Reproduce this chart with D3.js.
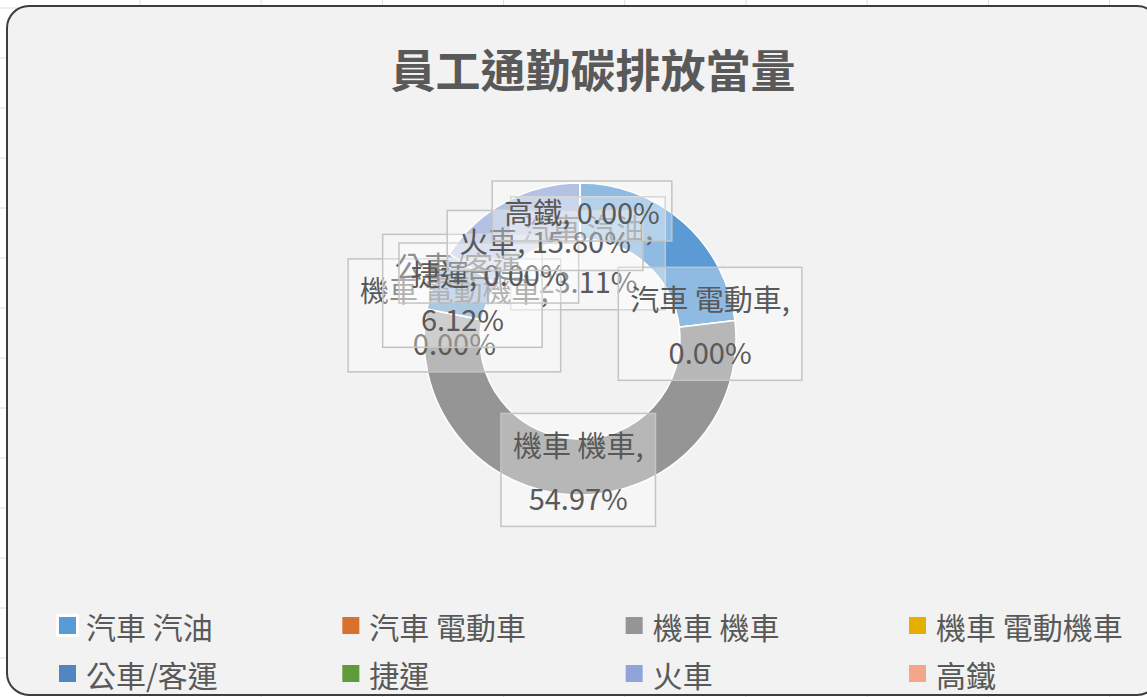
<!DOCTYPE html>
<html>
<head>
<meta charset="utf-8">
<script src="https://cdn.jsdelivr.net/npm/d3@7"></script>
<style>
body { margin: 0; background: #fff; }
svg { display: block; font-family: "Noto Sans CJK TC", "Noto Sans", sans-serif; }
</style>
</head>
<body>
<script>
var titleText = "員工通勤碳排放當量";
var categories = ["汽車 汽油", "汽車 電動車", "機車 機車", "機車 電動機車", "公車/客運", "捷運", "火車", "高鐵"];
var shares = [23.11, 0, 54.97, 0, 6.12, 0, 15.80, 0];
var colors = ["#5b9bd5", "#d8702e", "#959595", "#e5ae00", "#4f88bf", "#5f9a3c", "#8fa5d8", "#f2a68a"];

// labels sit on the ring centroid, a few were dragged a bit in the original
var labelNudge = [[-77, 10], [3, 0], [3, 3], [0, 1], [1, 0], [16, 4], [26, 14], [2, 0]];
var labelTwoLines = [true, true, true, true, true, false, false, false];

var W = 1147, H = 697;
var cx = 580, cy = 339, outerR = 156, innerR = 100;

var svg = d3.select("body").append("svg")
  .attr("width", W)
  .attr("height", H);

// spreadsheet cells peeking out around the chart
var gridX = d3.range(140, W, 121.2);
svg.selectAll("line.gx").data(gridX).enter().append("line")
  .attr("class", "gx")
  .attr("x1", function (d) { return d; }).attr("x2", function (d) { return d; })
  .attr("y1", 0).attr("y2", H)
  .attr("stroke", "#dcdcdc");
var gridY = d3.range(8, H, 50);
svg.selectAll("line.gy").data(gridY).enter().append("line")
  .attr("class", "gy")
  .attr("x1", 0).attr("x2", W)
  .attr("y1", function (d) { return d; }).attr("y2", function (d) { return d; })
  .attr("stroke", "#dcdcdc");

// chart area
svg.append("rect")
  .attr("x", 7).attr("y", 6)
  .attr("width", 1152).attr("height", 689)
  .attr("rx", 22).attr("ry", 22)
  .attr("fill", "#f2f2f2")
  .attr("stroke", "#3d3d3d")
  .attr("stroke-width", 2);

svg.append("text")
  .attr("x", 593).attr("y", 68)
  .attr("text-anchor", "middle")
  .attr("dominant-baseline", "central")
  .attr("font-size", 45)
  .attr("font-weight", "bold")
  .attr("fill", "#595959")
  .text(titleText);

var total = d3.sum(shares);
var pct = d3.format(".2%");

var pie = d3.pie().sort(null).value(function (d) { return d; });
var arcs = pie(shares);
var arc = d3.arc().innerRadius(innerR).outerRadius(outerR);

var ring = svg.append("g").attr("transform", "translate(" + cx + "," + cy + ")");
ring.selectAll("path").data(arcs).enter().append("path")
  .attr("d", arc)
  .attr("fill", function (d, i) { return colors[i]; })
  .attr("stroke", "#fff")
  .attr("stroke-width", 1.5);

// data labels, later series on top
var labels = ring.selectAll("g.lab").data(arcs).enter().append("g")
  .attr("class", "lab")
  .attr("transform", function (d, i) {
    var c = arc.centroid(d);
    return "translate(" + (c[0] + labelNudge[i][0]) + "," + (c[1] + labelNudge[i][1]) + ")";
  });

labels.each(function (d, i) {
  var g = d3.select(this);
  var p = pct(d.value / total);
  var lines = labelTwoLines[i] ? [categories[i] + ",", p] : [categories[i] + ", " + p];
  var box = g.append("rect");
  var ys = lines.length === 2 ? [-26, 27] : [0];
  var maxW = 0;
  lines.forEach(function (s, k) {
    var t = g.append("text")
      .attr("x", 0).attr("y", ys[k])
      .attr("text-anchor", "middle")
      .attr("dominant-baseline", "central")
      .attr("font-size", 29)
      .attr("fill", "#595959")
      .text(s);
    maxW = Math.max(maxW, t.node().getComputedTextLength());
  });
  var bw = maxW + 24, bh = lines.length === 2 ? 113 : 60;
  box.attr("x", -bw / 2).attr("y", -bh / 2)
    .attr("width", bw).attr("height", bh)
    .attr("fill", "#fff").attr("fill-opacity", 0.32)
    .attr("stroke", "#c4c4c4").attr("stroke-width", 1.5);
});

// legend, 4 per row
var legX = d3.scaleLinear().domain([0, 3]).range([59, 909]);
var legY = d3.scaleLinear().domain([0, 1]).range([626, 674]);
var leg = svg.selectAll("g.leg").data(categories).enter().append("g")
  .attr("class", "leg")
  .attr("transform", function (d, i) {
    return "translate(" + legX(i % 4) + "," + legY(Math.floor(i / 4)) + ")";
  });
leg.filter(function (d, i) { return i === 0; }).append("rect")
  .attr("x", -3).attr("y", -12).attr("width", 23).attr("height", 23)
  .attr("fill", "#fff");
leg.append("rect")
  .attr("x", 0).attr("y", -9)
  .attr("width", 17).attr("height", 17)
  .attr("fill", function (d, i) { return colors[i]; });
leg.append("text")
  .attr("x", 27).attr("y", 0)
  .attr("dominant-baseline", "central")
  .attr("font-size", 30)
  .attr("fill", "#595959")
  .text(function (d) { return d; });
</script>
</body>
</html>
